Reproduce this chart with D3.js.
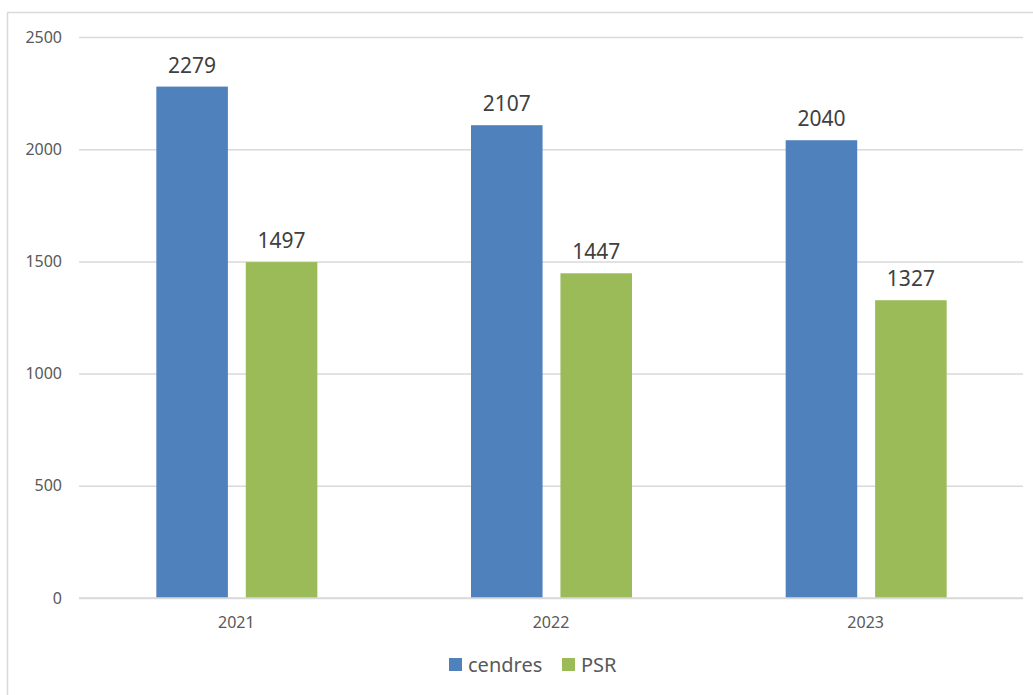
<!DOCTYPE html>
<html>
<head>
<meta charset="utf-8">
<script src="https://d3js.org/d3.v7.min.js"></script>
<style>
  body { margin: 0; background: #fff; }
  svg { font-family: "Noto Sans", "Open Sans", sans-serif; }
</style>
</head>
<body>
<div id="graph"></div>
<script>
// chart data
var years = ["2021", "2022", "2023"];
var seriesNames = ["cendres", "PSR"];
var cendres = [2279, 2107, 2040];
var psr = [1497, 1447, 1327];
var yTicks = [0, 500, 1000, 1500, 2000, 2500];
var colors = ["#4F81BD", "#9BBB59"];

var W = 1033, H = 695;
var margin = {top: 37, right: 10, bottom: 97, left: 79};
var width = 1023 - margin.left,
    height = 598 - margin.top;

var svg = d3.select("#graph")
  .append("svg")
    .attr("width", W)
    .attr("height", H);

// outer chart border
svg.append("rect")
  .attr("x", 7.5).attr("y", 12.5)
  .attr("width", 1040).attr("height", 700)
  .style("fill", "none")
  .style("stroke", "#d9d9d9")
  .style("stroke-width", 1.5);

var g = svg.append("g")
  .attr("transform", "translate(" + margin.left + "," + margin.top + ")");

var rows = years.map(function (y, i) {
  return {year: y, values: [cendres[i], psr[i]]};
});

var x0 = d3.scaleBand()
  .domain(years)
  .range([0, width]);

var x1 = d3.scaleBand()
  .domain(seriesNames)
  .range([0, 161])
  .paddingInner(0.2);

var y = d3.scaleLinear()
  .domain([0, 2500])
  .range([height, 0]);

// gridlines
var yAxis = g.append("g")
  .call(d3.axisLeft(y).tickValues(yTicks).tickFormat(d3.format("d")).tickSize(-width).tickPadding(17));
yAxis.select(".domain").remove();
yAxis.selectAll(".tick line")
  .style("stroke", "#d9d9d9")
  .style("stroke-width", 1.5);
yAxis.selectAll(".tick text")
  .style("fill", "#595959")
  .style("font-size", "16px")
  .style("font-family", "'Noto Sans', sans-serif");

// bars
var grp = g.selectAll(".year")
  .data(rows)
  .enter()
  .append("g")
    .attr("transform", function (d) {
      return "translate(" + (x0(d.year) + x0.bandwidth() / 2 - 80) + ",0)";
    });

grp.selectAll("rect")
  .data(function (d) { return d.values.map(function (v, i) { return {k: seriesNames[i], v: v, c: colors[i]}; }); })
  .enter()
  .append("rect")
    .attr("x", function (d) { return x1(d.k); })
    .attr("width", x1.bandwidth())
    .attr("y", function (d) { return y(d.v); })
    .attr("height", function (d) { return height - y(d.v); })
    .style("fill", function (d) { return d.c; });

grp.selectAll(".lbl")
  .data(function (d) { return d.values.map(function (v, i) { return {k: seriesNames[i], v: v}; }); })
  .enter()
  .append("text")
    .attr("x", function (d) { return x1(d.k) + x1.bandwidth() / 2; })
    .attr("y", function (d) { return y(d.v) - 14; })
    .style("text-anchor", "middle")
    .style("font-size", "21px")
    .style("fill", "#404040")
    .text(function (d) { return d.v; });

// baseline
g.append("line")
  .attr("x1", 0).attr("x2", width)
  .attr("y1", height).attr("y2", height)
  .style("stroke", "#d9d9d9")
  .style("stroke-width", 1.5);

// category labels
g.selectAll(".cat")
  .data(years)
  .enter()
  .append("text")
    .attr("x", function (d) { return x0(d) + x0.bandwidth() / 2; })
    .attr("y", height + 30)
    .style("text-anchor", "middle")
    .style("font-size", "16px")
    .style("fill", "#595959")
    .text(function (d) { return d; });

// legend
var legend = svg.append("g").attr("transform", "translate(449,658)");
var lx = [0, 113];
seriesNames.forEach(function (n, i) {
  legend.append("rect")
    .attr("x", lx[i]).attr("y", 0)
    .attr("width", 13).attr("height", 13)
    .style("fill", colors[i]);
  legend.append("text")
    .attr("x", lx[i] + 19).attr("y", 14)
    .style("font-size", "20px")
    .style("fill", "#595959")
    .text(n);
});
</script>
</body>
</html>
